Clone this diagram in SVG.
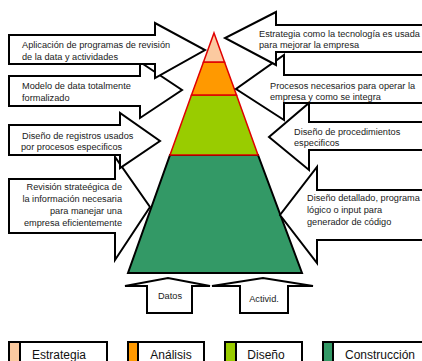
<svg xmlns="http://www.w3.org/2000/svg" width="422" height="361" viewBox="0 0 422 361">
  <style>
    .arrow { fill: #fff; stroke: #000; stroke-width: 2; stroke-linejoin: miter; }
    .band { stroke: #e00000; stroke-width: 1.5; stroke-linejoin: miter; }
    .base { stroke: #000; stroke-width: 2; stroke-linejoin: miter; }
    .lbl { font-family: "Liberation Sans", Arial, sans-serif; font-size: 9.2px; fill: #1a1a1a; }
    .leg { font-family: "Liberation Sans", Arial, sans-serif; font-size: 12px; fill: #111; text-anchor: middle; }
    .legbox { fill: #fff; stroke: #000; stroke-width: 2; }
    .sw { stroke: #000; stroke-width: 2; }
  </style>
  <rect width="422" height="361" fill="#fff"/>

  <!-- pyramid of levels -->
  <g id="pyramid">
    <polygon class="base" points="170,155 258,155 302,273 128,273" fill="#339966"/>
    <polygon class="band" points="191.5,95 236.5,95 258,155 170,155" fill="#99cc00"/>
    <polygon class="band" points="203.5,62 224.5,62 236.5,95 191.5,95" fill="#ff9900"/>
    <polygon class="band" points="214,33 224.5,62 203.5,62" fill="#fbcaa0"/>
  </g>

  <!-- callout arrows -->
  <g id="connectors">
    <g id="left-4">
      <polygon class="arrow" points="9,179 115,179 115,157 150,207 115,260 115,233 9,233"/>
      <text class="lbl" text-anchor="end" x="122" y="190">Revisión  strateégica de</text>
      <text class="lbl" text-anchor="end" x="122" y="202">la información necesaria</text>
      <text class="lbl" text-anchor="end" x="122" y="214">para manejar una</text>
      <text class="lbl" text-anchor="end" x="122" y="226">empresa eficientemente</text>
    </g>
    <g id="left-3">
      <polygon class="arrow" points="9,125 120,125 120,113 160,141 120,168 120,155 9,155"/>
      <text class="lbl" x="22" y="139">Diseño de registros usados</text>
      <text class="lbl" x="21" y="150">por procesos especificos</text>
    </g>
    <g id="left-2">
      <polygon class="arrow" points="9,76 140,76 140,62 182,90 140,118 140,106 9,106"/>
      <text class="lbl" x="22" y="89">Modelo de data totalmente</text>
      <text class="lbl" x="22" y="101">formalizado</text>
    </g>
    <g id="left-1">
      <polygon class="arrow" points="9,35 155,35 155,23 205,50 155,78 155,64 9,64"/>
      <text class="lbl" x="22" y="48">Aplicación de programas de revisión</text>
      <text class="lbl" x="22" y="60">de la data y  actividades</text>
    </g>

    <g id="right-4">
      <polygon class="arrow" points="424,190 317,190 317,167 280,215 317,263 317,240 424,240"/>
      <text class="lbl" x="307" y="201">Diseño detallado, programa</text>
      <text class="lbl" x="307" y="213">lógico o input para</text>
      <text class="lbl" x="307" y="225">generador de código</text>
    </g>
    <g id="right-3">
      <polygon class="arrow" points="424,122 309,122 309,103 269,137 309,170 309,150 424,150"/>
      <text class="lbl" x="294" y="135">Diseño de procedimientos</text>
      <text class="lbl" x="294" y="146">especificos</text>
    </g>
    <g id="right-2">
      <polygon class="arrow" points="424,75 284,75 284,55 236,89 284,120 284,103 424,103"/>
      <text class="lbl" x="270" y="89">Procesos necesarios para operar la</text>
      <text class="lbl" x="270" y="100">empresa y como se integra</text>
    </g>
    <g id="right-1">
      <polygon class="arrow" points="424,25 276,25 276,12 225,38 276,65 276,52 424,52"/>
      <text class="lbl" x="259" y="37">Estrategia como la tecnología es usada</text>
      <text class="lbl" x="259" y="48">para mejorar la empresa</text>
    </g>

    <g id="input-datos">
      <polygon class="arrow" points="147,313 147,286 125,286 168,278 210,286 192,286 192,313"/>
      <text class="lbl" text-anchor="middle" x="170" y="299">Datos</text>
    </g>
    <g id="input-activid">
      <polygon class="arrow" points="240,313 240,286 212,286 263,278 313,286 288,286 288,313"/>
      <text class="lbl" text-anchor="middle" x="264" y="302">Activid.</text>
    </g>
  </g>

  <!-- legend -->
  <g id="legend">
    <g id="leg-estrategia">
      <rect class="legbox" x="9" y="342" width="98" height="30"/>
      <rect class="sw" x="9" y="342" width="11" height="30" fill="#fbcaa0"/>
      <text class="leg" x="59" y="359">Estrategia</text>
    </g>
    <g id="leg-analisis">
      <rect class="legbox" x="128" y="342" width="76" height="30"/>
      <rect class="sw" x="128" y="342" width="10" height="30" fill="#ff9900"/>
      <text class="leg" x="171" y="359">Análisis</text>
    </g>
    <g id="leg-diseno">
      <rect class="legbox" x="225" y="342" width="77" height="30"/>
      <rect class="sw" x="225" y="342" width="11" height="30" fill="#99cc00"/>
      <text class="leg" x="266" y="359">Diseño</text>
    </g>
    <g id="leg-construccion">
      <rect class="legbox" x="323" y="342" width="110" height="30"/>
      <rect class="sw" x="323" y="342" width="10" height="30" fill="#339966"/>
      <text class="leg" x="380" y="359">Construcción</text>
    </g>
  </g>
</svg>
